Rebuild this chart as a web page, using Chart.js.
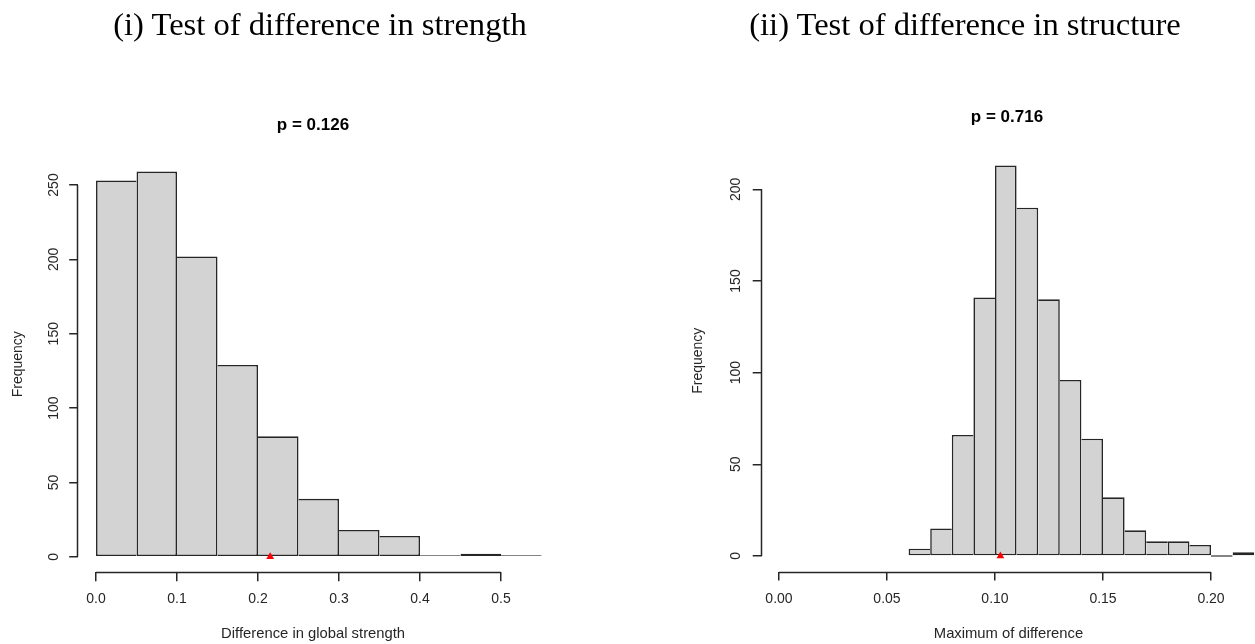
<!DOCTYPE html>
<html>
<head>
<meta charset="utf-8">
<script src="https://cdn.jsdelivr.net/npm/chart.js@4.4.1/dist/chart.umd.min.js"></script>
<style>
  html, body { margin: 0; padding: 0; background: #fff; overflow: hidden; width: 1255px; height: 644px; }
  .head {
    position: absolute; top: 8px; line-height: 32px;
    font-family: "Liberation Serif", "Times New Roman", serif; font-size: 32.6px; color: #000;
    white-space: nowrap; transform: translateX(-50%); z-index: 2;
  }
  #boxA { position: absolute; left: 0; top: 0; }
  #boxB { position: absolute; left: 685px; top: 0; }
</style>
</head>
<body>
<div class="head" style="left:320px">(i) Test of difference in strength</div>
<div class="head" style="left:965px">(ii) Test of difference in structure</div>
<div id="boxA"><canvas id="chartA" width="626" height="644"></canvas></div>
<div id="boxB"><canvas id="chartB" width="644" height="644"></canvas></div>

<script>
// histogramme (i) : différence de force globale
const strengthBreaks = [0, 0.05, 0.1, 0.15, 0.2, 0.25, 0.3, 0.35, 0.4, 0.45, 0.5, 0.55];
const strengthCounts = [253, 259, 202, 129, 81, 39, 18, 14, 1, 2, 1];
const strengthXTicks = [0, 0.1, 0.2, 0.3, 0.4, 0.5];
const strengthYTicks = [0, 50, 100, 150, 200, 250];
const strengthObserved = [0.215];

// histogramme (ii) : différence maximale de structure
const structureBreaks = [0.06, 0.07, 0.08, 0.09, 0.1, 0.11, 0.12, 0.13, 0.14, 0.15, 0.16, 0.17, 0.18, 0.19, 0.2, 0.21, 0.22];
const structureCounts = [4, 15, 66, 141, 213, 190, 140, 96, 64, 32, 14, 8, 8, 6, 0, 2];
const structureXTicks = [0, 0.05, 0.1, 0.15, 0.2];
const structureYTicks = [0, 50, 100, 150, 200];
const structureObserved = [0.1025];

const FONT = "'Liberation Sans', Arial, sans-serif";
const INK = '#262626';
const LW = 1.6;

// axes à la R : la ligne ne va que du premier au dernier tick
const rAxisLines = {
  id: 'rAxisLines',
  afterDraw(chart) {
    const { ctx, chartArea, scales: { x, y } } = chart;
    ctx.save();
    ctx.strokeStyle = INK;
    ctx.lineWidth = 1.5;
    ctx.beginPath();
    const yb = Math.round(chartArea.bottom) + 0.5;
    ctx.moveTo(x.getPixelForValue(x.ticks[0].value), yb);
    ctx.lineTo(x.getPixelForValue(x.ticks[x.ticks.length - 1].value), yb);
    const xl = Math.round(chartArea.left) - 0.5;
    ctx.moveTo(xl, y.getPixelForValue(y.ticks[0].value));
    ctx.lineTo(xl, y.getPixelForValue(y.ticks[y.ticks.length - 1].value));
    ctx.stroke();
    ctx.restore();
  }
};

function createHist(canvasId, cfg) {
  const n = cfg.counts.length;
  const bars = cfg.counts.map((c, i) => ({ x: (cfg.breaks[i] + cfg.breaks[i + 1]) / 2, y: c }));
  // un seul trait entre deux barres voisines, porté par la plus haute
  const edge = ctx => {
    const i = ctx.dataIndex, c = cfg.counts;
    return {
      top: LW, bottom: LW,
      left: (i === 0 || c[i - 1] <= c[i]) ? LW : 0,
      right: (i === n - 1 || c[i + 1] < c[i]) ? LW : 0
    };
  };

  new Chart(document.getElementById(canvasId).getContext('2d'), {
    data: {
      datasets: [
        {
          type: 'scatter',
          data: cfg.observed.map(v => ({ x: v, y: 0 })),
          pointStyle: 'triangle',
          pointRadius: 4.5,
          backgroundColor: '#ff0000',
          borderColor: '#ff0000',
          borderWidth: 0,
          order: 0
        },
        {
          type: 'bar',
          data: bars,
          backgroundColor: '#d3d3d3',
          borderColor: INK,
          borderWidth: edge,
          borderSkipped: false,
          inflateAmount: 0,
          minBarLength: 1.6,
          barPercentage: 1,
          categoryPercentage: 1,
          clip: false,
          order: 1
        }
      ]
    },
    plugins: [rAxisLines],
    options: {
      responsive: false,
      animation: false,
      events: [],
      layout: { padding: 0 },
      plugins: {
        legend: { display: false },
        tooltip: { enabled: false },
        title: {
          display: true,
          text: cfg.pText,
          color: '#000',
          font: { family: FONT, size: 17, weight: 'bold' },
          padding: cfg.titlePad
        }
      },
      scales: {
        x: {
          type: 'linear',
          position: 'bottom',
          offset: false,
          min: cfg.xMin,
          max: cfg.xMax,
          afterBuildTicks: s => { s.ticks = cfg.xTicks.map(v => ({ value: v })); },
          afterFit: s => { s.height = cfg.xAxisH; },
          border: { display: false },
          grid: { offset: false, drawOnChartArea: false, drawTicks: true, tickLength: 9, color: INK, lineWidth: 1.5 },
          ticks: {
            autoSkip: false, maxRotation: 0, padding: 10,
            color: INK, font: { family: FONT, size: 14 },
            callback: v => Number(v).toFixed(cfg.xDigits)
          },
          title: {
            display: true, text: cfg.xTitle, color: INK,
            font: { family: FONT, size: 14.8 }, padding: { top: 0, bottom: 1.3 }
          }
        },
        y: {
          type: 'linear',
          position: 'left',
          min: cfg.yMin,
          max: cfg.yMax,
          afterBuildTicks: s => { s.ticks = cfg.yTicks.map(v => ({ value: v })); },
          afterFit: s => { s.width = cfg.yAxisW; },
          border: { display: false },
          grid: { drawOnChartArea: false, drawTicks: true, tickLength: 9, color: INK, lineWidth: 1.5 },
          ticks: {
            autoSkip: false, minRotation: 90, maxRotation: 90, crossAlign: 'center',
            padding: cfg.yTickPad, color: INK, font: { family: FONT, size: 14 }
          },
          title: {
            display: true, text: 'Frequency', color: INK,
            font: { family: FONT, size: 14 }, padding: { top: cfg.yTitlePad, bottom: 0 }
          }
        },
        pad: {
          type: 'linear',
          axis: 'y',
          position: 'right',
          grid: { display: false },
          border: { display: false },
          ticks: { display: false },
          afterFit: s => { s.width = cfg.rightW; }
        }
      }
    }
  });
}

createHist('chartA', {
  breaks: strengthBreaks,
  counts: strengthCounts,
  observed: strengthObserved,
  xTicks: strengthXTicks,
  yTicks: strengthYTicks,
  xDigits: 1,
  xMin: -0.022, xMax: 0.558,
  yMin: -10.36, yMax: 269.36,
  pText: 'p = 0.126',
  titlePad: { top: 114.8, bottom: 21 },
  xTitle: 'Difference in global strength',
  xAxisH: 71.8,
  yAxisW: 78.2,
  rightW: 78,
  yTickPad: 3,
  yTitlePad: 9.9
});

createHist('chartB', {
  breaks: structureBreaks,
  counts: structureCounts,
  observed: structureObserved,
  xTicks: structureXTicks,
  yTicks: structureYTicks,
  xDigits: 2,
  xMin: -0.008, xMax: 0.2205,
  yMin: -8.52, yMax: 221.52,
  pText: 'p = 0.716',
  titlePad: { top: 106.8, bottom: 22.7 },
  xTitle: 'Maximum of difference',
  xAxisH: 72.4,
  yAxisW: 76.7,
  rightW: 73.7,
  yTickPad: 5,
  yTitlePad: 4.9
});
</script>
</body>
</html>
